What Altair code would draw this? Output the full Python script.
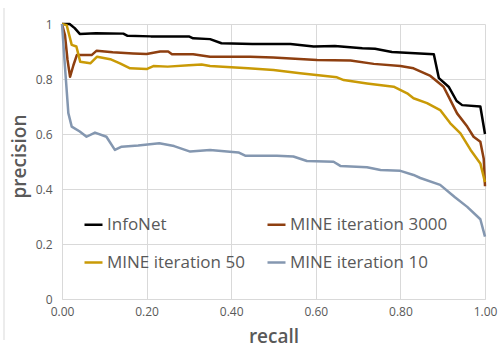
import altair as alt
import pandas as pd

# Precision-recall curves, one pair of lists per series
recall_infonet = [0.000, 0.018, 0.030, 0.042, 0.080, 0.145, 0.155, 0.210, 0.300, 0.310,
                  0.350, 0.377, 0.450, 0.540, 0.595, 0.645, 0.710, 0.740, 0.780, 0.879,
                  0.891, 0.914, 0.933, 0.946, 0.989, 1.000]
precision_infonet = [1.000, 1.000, 0.985, 0.964, 0.966, 0.965, 0.957, 0.955, 0.955, 0.948,
                     0.945, 0.930, 0.927, 0.927, 0.918, 0.920, 0.912, 0.910, 0.898, 0.890,
                     0.803, 0.772, 0.720, 0.705, 0.700, 0.600]

recall_mine3000 = [0.000, 0.007, 0.013, 0.019, 0.027, 0.035, 0.070, 0.082, 0.120, 0.168,
                   0.200, 0.232, 0.251, 0.260, 0.310, 0.350, 0.445, 0.499, 0.603, 0.682,
                   0.737, 0.800, 0.831, 0.871, 0.902, 0.914, 0.934, 0.958, 0.973, 0.989,
                   0.997, 1.000]
precision_mine3000 = [1.000, 0.960, 0.870, 0.808, 0.850, 0.887, 0.887, 0.903, 0.897, 0.893,
                      0.891, 0.900, 0.900, 0.890, 0.890, 0.881, 0.881, 0.878, 0.869, 0.867,
                      0.855, 0.847, 0.839, 0.811, 0.772, 0.736, 0.675, 0.627, 0.590, 0.572,
                      0.510, 0.410]

recall_mine50 = [0.000, 0.011, 0.023, 0.034, 0.043, 0.067, 0.083, 0.114, 0.137, 0.161,
                 0.200, 0.216, 0.250, 0.300, 0.330, 0.350, 0.440, 0.500, 0.563, 0.650,
                 0.666, 0.721, 0.784, 0.816, 0.831, 0.863, 0.894, 0.918, 0.942, 0.966,
                 0.989, 1.000]
precision_mine50 = [1.000, 0.996, 0.924, 0.918, 0.863, 0.857, 0.881, 0.872, 0.857, 0.839,
                    0.836, 0.847, 0.845, 0.850, 0.853, 0.847, 0.839, 0.833, 0.821, 0.806,
                    0.796, 0.784, 0.772, 0.748, 0.730, 0.712, 0.687, 0.639, 0.602, 0.542,
                    0.493, 0.425]

recall_mine10 = [0.000, 0.007, 0.015, 0.023, 0.042, 0.058, 0.078, 0.105, 0.125, 0.141,
                 0.180, 0.230, 0.265, 0.303, 0.350, 0.417, 0.433, 0.508, 0.547, 0.579,
                 0.642, 0.658, 0.721, 0.753, 0.800, 0.831, 0.847, 0.894, 0.929, 0.958,
                 0.989, 1.000]
precision_mine10 = [1.000, 0.845, 0.676, 0.627, 0.609, 0.590, 0.605, 0.590, 0.542, 0.554,
                    0.558, 0.566, 0.556, 0.536, 0.542, 0.533, 0.521, 0.521, 0.518, 0.502,
                    0.499, 0.484, 0.479, 0.469, 0.466, 0.451, 0.440, 0.415, 0.370, 0.335,
                    0.290, 0.227]

series_names = ["InfoNet", "MINE iteration 3000", "MINE iteration 50", "MINE iteration 10"]
series_colors = ["#000000", "#8E3F10", "#C99A06", "#8497B0"]
# legend grid fills column by column: InfoNet / MINE 50 on the left, MINE 3000 / MINE 10 on the right
legend_order = ["InfoNet", "MINE iteration 50", "MINE iteration 3000", "MINE iteration 10"]
legend_colors = [series_colors[series_names.index(n)] for n in legend_order]
x_ticks = [0, 0.2, 0.4, 0.6, 0.8, 1.0]
y_ticks = [0, 0.2, 0.4, 0.6, 0.8, 1.0]

series_data = [
    (recall_infonet, precision_infonet),
    (recall_mine3000, precision_mine3000),
    (recall_mine50, precision_mine50),
    (recall_mine10, precision_mine10),
]

rows = []
for name, (rs, ps) in zip(series_names, series_data):
    for i, (r, p) in enumerate(zip(rs, ps)):
        rows.append({"series": name, "recall": r, "precision": p, "idx": i})
df = pd.DataFrame(rows)

FONT = "Open Sans"
GREY = "#595959"

lines = alt.Chart(df).mark_line(strokeWidth=2.5, strokeJoin="round").encode(
    x=alt.X(
        "recall:Q",
        scale=alt.Scale(domain=[0, 1], nice=False, zero=False),
        axis=alt.Axis(
            values=x_ticks, format=".2f", title="recall",
            labelPadding=7, labelFlush=False, titleFontSize=19,
            titleFontWeight=600, titleY=43, titleBaseline="alphabetic",
            domain=True, domainColor="#D9D9D9", domainWidth=1,
        ),
    ),
    y=alt.Y(
        "precision:Q",
        scale=alt.Scale(domain=[0, 1], nice=False),
        axis=alt.Axis(
            values=y_ticks, format="~g", title="precision",
            labelPadding=10, labelFlush=False, titleFontSize=19,
            titleFontWeight=600,
            titleX=-33, titleY=132, titleAngle=-90, titleAlign="center",
            titleBaseline="bottom", domain=False,
        ),
    ),
    color=alt.Color(
        "series:N",
        scale=alt.Scale(domain=legend_order, range=legend_colors),
        legend=alt.Legend(
            title=None, orient="none", legendX=21, legendY=190, columns=2,
            symbolType="stroke", symbolSize=324, symbolStrokeWidth=2.5,
            labelFontSize=17, labelColor=GREY, labelFont=FONT,
            labelOffset=3, columnPadding=17, rowPadding=19,
        ),
    ),
    order=alt.Order("idx:Q"),
)

# thin frame line at the chart's left edge
frame = alt.Chart(pd.DataFrame({"k": [0]})).mark_rule(color="#D9D9D9", strokeWidth=1).encode(
    x=alt.value(-58), y=alt.value(-16), y2=alt.value(316)
)

chart = alt.layer(frame, lines).properties(
    width=423, height=275, autosize="none",
    padding={"left": 62, "top": 24, "right": 13, "bottom": 48},
).configure_view(stroke=None).configure_axis(
    grid=True, gridColor="#D9D9D9", gridWidth=1, ticks=False,
    labelFont=FONT, titleFont=FONT, labelFontSize=12,
    labelColor=GREY, titleColor=GREY,
)

chart.save("out.html", embed_options={"renderer": "svg", "actions": False})
